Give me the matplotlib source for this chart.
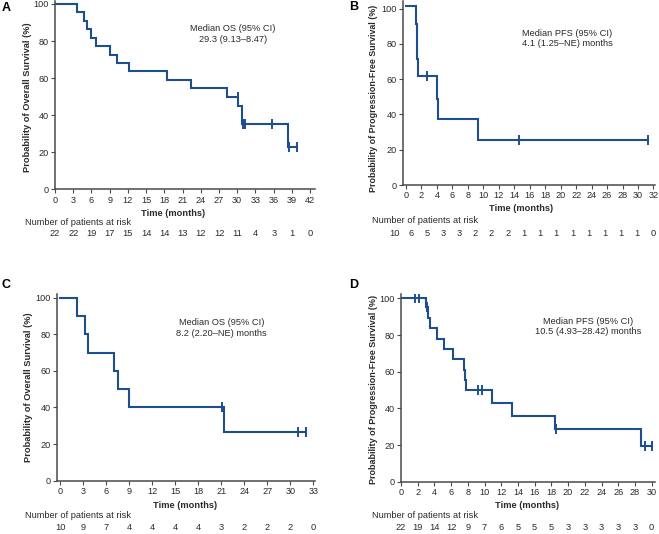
import numpy as np
import matplotlib
matplotlib.use("Agg")
import matplotlib.pyplot as plt
from matplotlib.transforms import blended_transform_factory

plt.rcParams['font.family'] = ['Liberation Sans', 'DejaVu Sans']

W, H = 659, 534
LINE = '#1d4f8f'
AX = '#4a4a4a'
TXT = '#2b2b2b'
FS = 6.7

# ---------------- data ----------------
# Panel A: Overall survival
a_event_t = [3.7, 4.8, 5.2, 5.9, 6.7, 9.1, 10.2, 12.1, 18.4, 22.4, 28.3, 30.2, 30.75, 30.85, 38.4]
a_event_s = [95.5, 90.9, 86.4, 81.8, 77.3, 72.7, 68.2, 63.6, 59.1, 54.5, 50.0, 45.0, 40.0, 35.0, 23.0]
a_cens_t = [30.1, 30.95, 31.15, 31.35, 35.8, 38.6, 39.8]
a_ticks = [0, 3, 6, 9, 12, 15, 18, 21, 24, 27, 30, 33, 36, 39, 42]
a_risk = [22, 22, 19, 17, 15, 14, 14, 13, 12, 12, 11, 4, 3, 1, 0]

# Panel B: Progression-free survival
b_start = 101.5
b_event_t = [1.25, 1.38, 1.51, 4.05, 4.2, 9.25]
b_event_s = [91.5, 71.5, 61.5, 49.0, 37.5, 25.5]
b_cens_t = [2.67, 14.66, 31.26]
b_ticks = [0, 2, 4, 6, 8, 10, 12, 14, 16, 18, 20, 22, 24, 26, 28, 30, 32]
b_risk = [10, 6, 5, 3, 3, 2, 2, 2, 1, 1, 1, 1, 1, 1, 1, 1, 0]

# Panel C: Overall survival
c_event_t = [2.25, 3.3, 3.68, 7.06, 7.6, 8.96, 21.4]
c_event_s = [90, 80, 70, 60, 50, 40, 26.7]
c_cens_t = [21.1, 30.95, 32.0]
c_ticks = [0, 3, 6, 9, 12, 15, 18, 21, 24, 27, 30, 33]
c_risk = [10, 9, 7, 4, 4, 4, 4, 3, 2, 2, 2, 0]

# Panel D: Progression-free survival
d_event_t = [2.95, 3.19, 3.47, 4.27, 5.18, 6.18, 7.54, 7.66, 7.78, 10.85, 13.24, 18.43, 28.7]
d_event_s = [95.5, 89.1, 83.6, 77.8, 72.2, 66.7, 61.0, 55.6, 50.0, 43.0, 36.0, 28.6, 19.3]
d_cens_t = [1.68, 2.19, 3.07, 9.25, 9.65, 18.6, 29.2, 30.0]
d_ticks = [0, 2, 4, 6, 8, 10, 12, 14, 16, 18, 20, 22, 24, 26, 28, 30]
d_risk = [22, 19, 14, 12, 9, 7, 6, 5, 5, 5, 3, 3, 3, 3, 3, 0]

yticks = [0, 20, 40, 60, 80, 100]

fig = plt.figure(figsize=(W / 100, H / 100), dpi=100)


def fx(px):
    return px / W


def fy(py):
    return 1 - py / H


def panel(left, right, top, bottom, xlim, ylim, ev_t, ev_s, cens_t, start,
          ticks, risk, letter, letter_xy, ylabel, ylabel_xy, xlabel_xy,
          note, note_xy, risk_head_xy, risk_y, risk_x=None, ylabel_fs=FS):
    ax = fig.add_axes([fx(left), fy(bottom), fx(right - left), (bottom - top) / H])
    end_t = max(cens_t + ev_t)
    ts = [0] + list(ev_t) + [end_t]
    ss = [start] + list(ev_s) + [ev_s[-1]]
    ax.step(ts, ss, where='post', color=LINE, lw=1.5, solid_joinstyle='miter')
    # censor marks
    ev_arr = np.array(ev_t)
    cs = []
    for t in cens_t:
        k = np.searchsorted(ev_arr, t, side='right')
        cs.append(start if k == 0 else ev_s[k - 1])
    ax.plot(cens_t, cs, ls='none', marker='|', ms=6.5, mew=1.4, color=LINE)
    ax.set_xlim(*xlim)
    ax.set_ylim(*ylim)
    ax.set_xticks(ticks)
    ax.set_yticks(yticks)
    for s in ['top', 'right']:
        ax.spines[s].set_visible(False)
    for s in ['left', 'bottom']:
        ax.spines[s].set_color(AX)
        ax.spines[s].set_linewidth(1.1)
    ax.tick_params(direction='out', length=3, width=0.8, color=AX,
                   labelsize=6.6, labelcolor=TXT, pad=1.5)
    fig.text(fx(letter_xy[0]), fy(letter_xy[1]), letter, fontsize=9,
             fontweight='bold', ha='left', va='center', color='black')
    fig.text(fx(ylabel_xy[0]), fy(ylabel_xy[1]), ylabel, rotation=90,
             fontsize=ylabel_fs, fontweight='bold', ha='center', va='center', color=TXT)
    fig.text(fx(xlabel_xy[0]), fy(xlabel_xy[1]), 'Time (months)',
             fontsize=FS, fontweight='bold', ha='center', va='center', color=TXT)
    fig.text(fx(note_xy[0]), fy(note_xy[1]), note, fontsize=FS,
             ha='center', va='center', color=TXT, linespacing=1.2)
    fig.text(fx(risk_head_xy[0]), fy(risk_head_xy[1]),
             'Number of patients at risk', fontsize=FS,
             ha='left', va='center', color=TXT)
    tr = blended_transform_factory(ax.transData, fig.transFigure)
    xs = ticks if risk_x is None else risk_x
    for x, n in zip(xs, risk):
        ax.text(x, fy(risk_y), str(n), transform=tr, fontsize=FS,
                ha='center', va='center', color=TXT, clip_on=False)
    return ax


panel(55, 315, 1.2, 189.3, (0, 42.8), (0, 101.5),
      a_event_t, a_event_s, a_cens_t, 100.0, a_ticks, a_risk,
      'A', (2, 8), 'Probability of Overall Survival (%)', (28, 97),
      (173, 213.3), 'Median OS (95% CI)\n29.3 (9.13–8.47)', (233, 34),
      (25, 222.7), 233.3)

panel(402.7, 655, 0.6, 185, (-0.43, 32.2), (0, 104.5),
      b_event_t, b_event_s, b_cens_t, b_start, b_ticks, b_risk,
      'B', (349, 7), 'Probability of Progression-Free Survival (%)', (373.3, 98),
      (521, 208.3), 'Median PFS (95% CI)\n4.1 (1.25–NE) months', (567.3, 38.3),
      (371.7, 220.7), 233.3, risk_x=list(np.linspace(-1.5, 32, len(b_risk))),
      ylabel_fs=6.4)

panel(56.7, 315, 294, 480.7, (-0.43, 33.2), (0, 102),
      c_event_t, c_event_s, c_cens_t, 100.0, c_ticks, c_risk,
      'C', (2, 285), 'Probability of Overall Survival (%)', (28.3, 387),
      (185, 505), 'Median OS (95% CI)\n8.2 (2.20–NE) months', (221.7, 328),
      (25, 515), 527.3)

panel(401, 655, 294.2, 481.7, (0, 30.4), (0, 102.3),
      d_event_t, d_event_s, d_cens_t, 100.0, d_ticks, d_risk,
      'D', (349, 285), 'Probability of Progression-Free Survival (%)', (373.3, 389),
      (526.7, 505), 'Median PFS (95% CI)\n10.5 (4.93–28.42) months', (588.3, 326.2),
      (371.7, 515.7), 527.3, ylabel_fs=6.5)

fig.savefig('out.png', dpi=100, facecolor='white')
